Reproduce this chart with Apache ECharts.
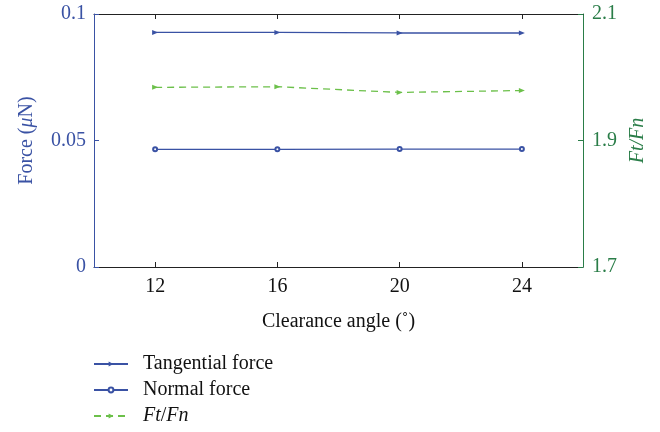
<!DOCTYPE html>
<html><head><meta charset="utf-8">
<script src="https://cdn.jsdelivr.net/npm/echarts@6/dist/echarts.min.js"></script>
<style>html,body{margin:0;padding:0;background:#fff}#c{width:660px;height:432px}</style>
</head><body><div id="c"></div>
<script>
const angles = [12, 16, 20, 24];
const tangentialForce = [0.0927, 0.0927, 0.0925, 0.0925];
const normalForce = [0.0465, 0.0465, 0.0466, 0.0466];
const ftFn = [1.984, 1.985, 1.976, 1.979];
const forceTicks = [0, 0.05, 0.1];
const ratioTicks = [1.7, 1.9, 2.1];
const angleRange = [10, 26];

const FONT = 'Liberation Serif';
const FS = 20;
const BLUE = '#3a52a4';
const GREEN = '#2a7d48';
const LGREEN = '#6cc04a';

function pairs(ys) { return angles.map(function (a, i) { return [a, ys[i]]; }); }

const chart = echarts.init(document.getElementById('c'), null, {renderer: 'canvas'});
const xBase = {
  type: 'value', min: angleRange[0], max: angleRange[1],
  axisTick: {show: true, inside: true, length: 5, lineStyle: {color: '#222'}, customValues: angles},
  axisLine: {show: true, lineStyle: {color: '#222', width: 1}},
  splitLine: {show: false}
};
chart.setOption({
  animation: false,
  textStyle: {fontFamily: FONT},
  grid: {left: 94, right: 77, top: 14, bottom: 165, containLabel: false},
  legend: {
    orient: 'vertical', left: 93, top: 354, bottom: 0, padding: 0,
    itemWidth: 34, itemHeight: 6, itemGap: 6,
    textStyle: {fontFamily: FONT, fontSize: FS, color: '#111', padding: [0, 0, 0, 10],
      rich: {i: {fontStyle: 'italic', fontFamily: FONT, fontSize: FS, color: '#111'}}},
    formatter: function (n) { return n === 'Ft/Fn' ? '{i|Ft}/{i|Fn}' : n; },
    data: ['Tangential force', 'Normal force', 'Ft/Fn']
  },
  xAxis: [
    Object.assign({}, xBase, {
      position: 'bottom',
      name: 'Clearance angle (˚)', nameLocation: 'middle', nameGap: 45,
      nameTextStyle: {fontFamily: FONT, fontSize: FS, color: '#111'},
      axisLabel: {fontFamily: FONT, fontSize: FS, color: '#111', margin: 10, customValues: angles}
    }),
    Object.assign({}, xBase, {position: 'top', axisLabel: {show: false, customValues: angles}})
  ],
  yAxis: [
    {
      type: 'value', min: forceTicks[0], max: forceTicks[2], interval: 0.05,
      position: 'left',
      name: '{n|Force (}{i|μ}{n|N)}', nameLocation: 'middle', nameGap: 57, nameRotate: 90,
      nameTextStyle: {rich: {
        n: {fontFamily: FONT, fontSize: FS, color: BLUE},
        i: {fontFamily: FONT, fontSize: FS, color: BLUE, fontStyle: 'italic'}}},
      axisLine: {show: true, lineStyle: {color: BLUE, width: 1}},
      axisTick: {show: true, inside: true, length: 5, lineStyle: {color: BLUE}},
      axisLabel: {fontFamily: FONT, fontSize: FS, color: BLUE, margin: 8,
        formatter: function (v) { return String(+v.toFixed(2)); }},
      splitLine: {show: false}
    },
    {
      type: 'value', min: ratioTicks[0], max: ratioTicks[2], interval: 0.2,
      position: 'right',
      name: 'Ft/Fn', nameLocation: 'middle', nameGap: 41, nameRotate: 90,
      nameTextStyle: {fontFamily: FONT, fontSize: FS, color: GREEN, fontStyle: 'italic'},
      axisLine: {show: true, lineStyle: {color: GREEN, width: 1}},
      axisTick: {show: true, inside: true, length: 5, lineStyle: {color: GREEN}},
      axisLabel: {fontFamily: FONT, fontSize: FS, color: GREEN, margin: 9,
        formatter: function (v) { return v.toFixed(1); }},
      splitLine: {show: false}
    }
  ],
  series: [
    {
      name: 'Tangential force', type: 'line', xAxisIndex: 0, yAxisIndex: 0, data: pairs(tangentialForce),
      symbol: 'triangle', symbolSize: [5, 6], symbolRotate: -90,
      lineStyle: {color: BLUE, width: 1.3}, itemStyle: {color: BLUE}
    },
    {
      name: 'Normal force', type: 'line', xAxisIndex: 0, yAxisIndex: 0, data: pairs(normalForce),
      symbol: 'emptyCircle', symbolSize: 4,
      lineStyle: {color: BLUE, width: 1.3}, itemStyle: {color: BLUE, borderWidth: 1.2}
    },
    {
      name: 'Ft/Fn', type: 'line', xAxisIndex: 0, yAxisIndex: 1, data: pairs(ftFn),
      symbol: 'triangle', symbolSize: [5, 6], symbolRotate: -90,
      lineStyle: {color: LGREEN, width: 1.3, type: [7, 5]}, itemStyle: {color: LGREEN}
    }
  ]
});
</script></body></html>
